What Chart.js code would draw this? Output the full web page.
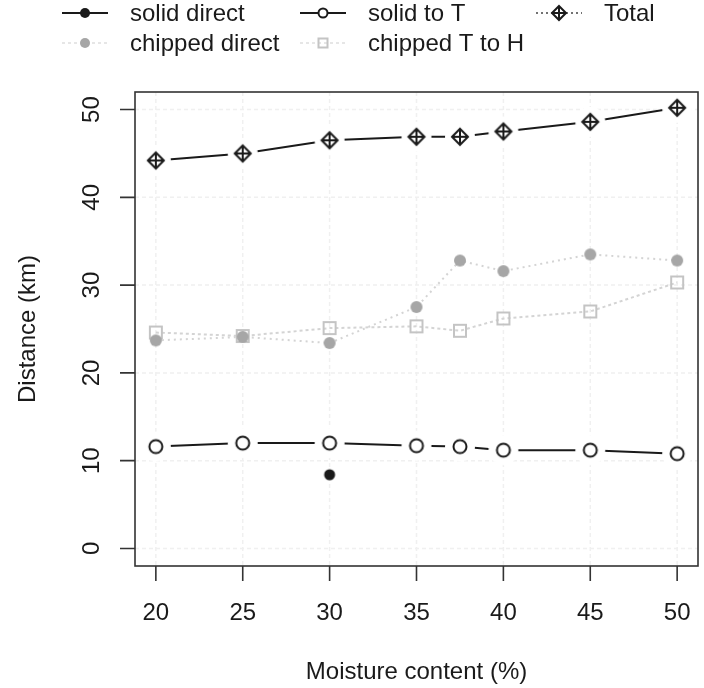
<!DOCTYPE html>
<html>
<head>
<meta charset="utf-8">
<script src="https://cdn.jsdelivr.net/npm/chart.js@4.4.1/dist/chart.umd.min.js"></script>
<style>
  html, body { margin: 0; padding: 0; background: #fff; }
  #chart { display: block; }
</style>
</head>
<body>
<canvas id="chart" width="704" height="688"></canvas>
<script>
// data
const moisture = [20, 25, 30, 35, 37.5, 40, 45, 50];
const solidDirect = [null, null, 8.4, null, null, null, null, null];
const solidToT = [11.6, 12.0, 12.0, 11.7, 11.6, 11.2, 11.2, 10.8];
const total = [44.2, 45.0, 46.5, 46.9, 46.9, 47.5, 48.6, 50.2];
const chippedDirect = [23.7, 24.1, 23.4, 27.5, 32.8, 31.6, 33.5, 32.8];
const chippedTtoH = [24.6, 24.2, 25.1, 25.3, 24.8, 26.2, 27.0, 30.3];

const xTicks = [20, 25, 30, 35, 40, 45, 50];
const yTicks = [0, 10, 20, 30, 40, 50];
const xTitle = "Moisture content (%)";
const yTitle = "Distance (km)";

const FONT = "24px 'Liberation Sans', Arial, sans-serif";
const INK = "#1a1a1a";
const GREY_DOT = "#a6a6a6";
const GREY_SQ = "#c4c4c4";
const GREY_LINE = "#d4d4d4";

function toPoints(values) {
  const pts = [];
  values.forEach(function (v, i) {
    if (v !== null) pts.push({ x: moisture[i], y: v });
  });
  return pts;
}

// draws one marker centred on (cx, cy)
function drawMarker(ctx, kind, cx, cy, s) {
  ctx.save();
  ctx.lineWidth = 2;
  ctx.setLineDash([]);
  if (kind === "dot") {
    ctx.fillStyle = INK;
    ctx.beginPath(); ctx.arc(cx, cy, s, 0, Math.PI * 2); ctx.fill();
  } else if (kind === "greyDot") {
    ctx.fillStyle = GREY_DOT;
    ctx.beginPath(); ctx.arc(cx, cy, s, 0, Math.PI * 2); ctx.fill();
  } else if (kind === "circle") {
    ctx.strokeStyle = INK;
    ctx.fillStyle = "#fff";
    ctx.beginPath(); ctx.arc(cx, cy, s, 0, Math.PI * 2); ctx.fill(); ctx.stroke();
  } else if (kind === "square") {
    ctx.strokeStyle = GREY_SQ;
    ctx.strokeRect(cx - s, cy - s, s * 2, s * 2);
  } else if (kind === "diamondPlus") {
    ctx.strokeStyle = INK;
    ctx.beginPath();
    ctx.moveTo(cx, cy - s); ctx.lineTo(cx + s, cy); ctx.lineTo(cx, cy + s); ctx.lineTo(cx - s, cy);
    ctx.closePath();
    ctx.moveTo(cx - s, cy); ctx.lineTo(cx + s, cy);
    ctx.moveTo(cx, cy - s); ctx.lineTo(cx, cy + s);
    ctx.stroke();
  }
  ctx.restore();
}

// point image, with an optional white disc so lines stop short of the marker
function pointImage(kind, s, gap) {
  const c = document.createElement("canvas");
  c.width = 34; c.height = 34;
  const g = c.getContext("2d");
  if (gap) {
    g.fillStyle = "#fff";
    g.beginPath(); g.arc(17, 17, gap, 0, Math.PI * 2); g.fill();
  }
  drawMarker(g, kind, 17, 17, s);
  return c;
}

const legendItems = [
  { label: "solid direct", kind: "dot", s: 5, line: "solid", col: 0, row: 0 },
  { label: "solid to T", kind: "circle", s: 4.5, line: "solid", col: 1, row: 0 },
  { label: "Total", kind: "diamondPlus", s: 7, line: "dotted", col: 2, row: 0 },
  { label: "chipped direct", kind: "greyDot", s: 5, line: "faint", col: 0, row: 1 },
  { label: "chipped T to H", kind: "square", s: 4.5, line: "faint", col: 1, row: 1 },
];
const legendCols = [85, 323, 559];
const legendRows = [13, 43];

const rStyleAxes = {
  id: "rStyleAxes",
  beforeDatasetsDraw(chart) {
    const ctx = chart.ctx;
    const a = chart.chartArea;
    const x = chart.scales.x;
    const y = chart.scales.y;
    ctx.save();
    ctx.strokeStyle = "#f0f0f0";
    ctx.lineWidth = 1.5;
    ctx.setLineDash([4, 3]);
    ctx.beginPath();
    xTicks.forEach(function (v) {
      const px = x.getPixelForValue(v);
      ctx.moveTo(px, a.top); ctx.lineTo(px, a.bottom);
    });
    yTicks.forEach(function (v) {
      const py = y.getPixelForValue(v);
      ctx.moveTo(a.left, py); ctx.lineTo(a.right, py);
    });
    ctx.stroke();
    ctx.restore();
  },
  afterDraw(chart) {
    const ctx = chart.ctx;
    const a = chart.chartArea;
    const x = chart.scales.x;
    const y = chart.scales.y;
    ctx.save();
    ctx.strokeStyle = "#333";
    ctx.lineWidth = 1.6;
    ctx.strokeRect(a.left, a.top, a.right - a.left, a.bottom - a.top);

    ctx.font = FONT;
    ctx.fillStyle = INK;
    ctx.textAlign = "center";
    ctx.textBaseline = "middle";

    // x axis ticks and labels
    ctx.beginPath();
    xTicks.forEach(function (v) {
      const px = x.getPixelForValue(v);
      ctx.moveTo(px, a.bottom); ctx.lineTo(px, a.bottom + 15);
    });
    ctx.stroke();
    xTicks.forEach(function (v) {
      ctx.fillText(String(v), x.getPixelForValue(v), a.bottom + 47);
    });
    ctx.fillText(xTitle, (a.left + a.right) / 2, a.bottom + 106);

    // y axis ticks and rotated labels
    ctx.beginPath();
    yTicks.forEach(function (v) {
      const py = y.getPixelForValue(v);
      ctx.moveTo(a.left, py); ctx.lineTo(a.left - 15, py);
    });
    ctx.stroke();
    yTicks.forEach(function (v) {
      ctx.save();
      ctx.translate(a.left - 43, y.getPixelForValue(v));
      ctx.rotate(-Math.PI / 2);
      ctx.fillText(String(v), 0, 0);
      ctx.restore();
    });
    ctx.save();
    ctx.translate(28, (a.top + a.bottom) / 2);
    ctx.rotate(-Math.PI / 2);
    ctx.fillText(yTitle, 0, 0);
    ctx.restore();

    // legend above the plot
    ctx.textAlign = "left";
    legendItems.forEach(function (it) {
      const cx = legendCols[it.col];
      const cy = legendRows[it.row];
      ctx.save();
      if (it.line === "solid") {
        ctx.strokeStyle = INK; ctx.lineWidth = 2;
      } else if (it.line === "dotted") {
        ctx.strokeStyle = "#444"; ctx.lineWidth = 1.5; ctx.setLineDash([2, 3]);
      } else {
        ctx.strokeStyle = "#e6e6e6"; ctx.lineWidth = 2; ctx.setLineDash([3, 3]);
      }
      ctx.beginPath();
      ctx.moveTo(cx - 23, cy); ctx.lineTo(cx + 23, cy);
      ctx.stroke();
      ctx.restore();
      drawMarker(ctx, it.kind, cx, cy, it.s);
      ctx.fillText(it.label, cx + 45, cy + 1);
    });
    ctx.restore();
  },
};

new Chart(document.getElementById("chart"), {
  type: "line",
  data: {
    datasets: [
      {
        label: "solid direct",
        data: toPoints(solidDirect),
        showLine: false,
        pointStyle: pointImage("dot", 5.5, 0),
      },
      {
        label: "solid to T",
        data: toPoints(solidToT),
        borderColor: INK,
        borderWidth: 2,
        pointStyle: pointImage("circle", 6.5, 15),
      },
      {
        label: "Total",
        data: toPoints(total),
        borderColor: INK,
        borderWidth: 2,
        pointStyle: pointImage("diamondPlus", 8, 15),
      },
      {
        label: "chipped direct",
        data: toPoints(chippedDirect),
        borderColor: GREY_LINE,
        borderWidth: 2,
        borderDash: [2, 4],
        pointStyle: pointImage("greyDot", 6, 0),
      },
      {
        label: "chipped T to H",
        data: toPoints(chippedTtoH),
        borderColor: GREY_LINE,
        borderWidth: 2,
        borderDash: [3, 3],
        pointStyle: pointImage("square", 6, 0),
      },
    ],
  },
  options: {
    responsive: false,
    animation: false,
    events: [],
    layout: { padding: { left: 135, right: 6, top: 92, bottom: 122 } },
    scales: {
      x: { type: "linear", min: 18.8, max: 51.2, display: false },
      y: { type: "linear", min: -2, max: 52, display: false },
    },
    plugins: {
      legend: { display: false },
      tooltip: { enabled: false },
    },
  },
  plugins: [rStyleAxes],
});
</script>
</body>
</html>
